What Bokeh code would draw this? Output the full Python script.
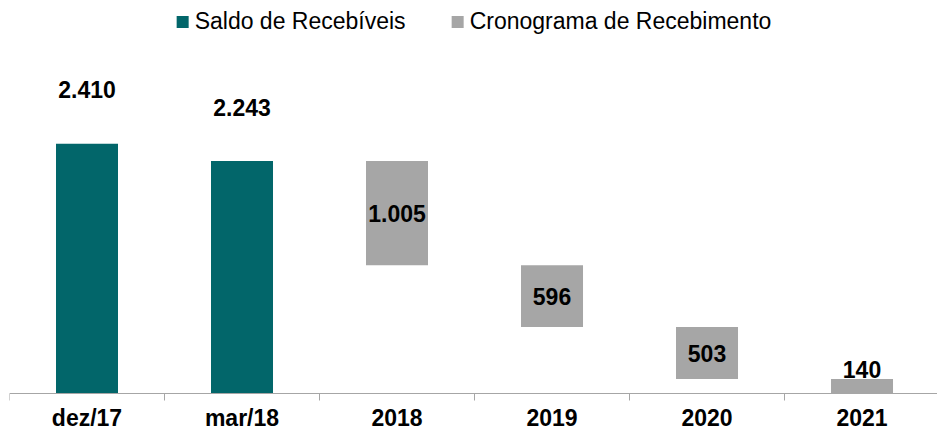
from bokeh.plotting import figure
from bokeh.models import Range1d, FixedTicker, Legend, LegendItem, ColumnDataSource
from bokeh.core.properties import value
from bokeh.embed import file_html
from bokeh.resources import INLINE

# ---- data ----
categories = ["dez/17", "mar/18", "2018", "2019", "2020", "2021"]
saldo_labels = ["dez/17", "mar/18"]
saldo_values = [2410, 2243]
crono_labels = ["2018", "2019", "2020", "2021"]
crono_values = [1005, 596, 503, 140]

TEAL = "#02666A"
GRAY = "#A6A6A6"
AXIS = "#A6A6A6"
FONT = "Liberation Sans"


def fmt(v):
    return f"{v:,}".replace(",", ".")


pos = {c: i + 0.5 for i, c in enumerate(categories)}

# waterfall geometry derived from the values
running = saldo_values[-1]
c_bottom, c_top = [], []
for v in crono_values:
    b = max(running - v, 0)
    c_bottom.append(b)
    c_top.append(b + v if running - v < 0 else running)
    running -= v

saldo_src = ColumnDataSource(dict(
    x=[pos[c] for c in saldo_labels],
    top=saldo_values,
    label=[fmt(v) for v in saldo_values],
))
crono_src = ColumnDataSource(dict(
    x=[pos[c] for c in crono_labels],
    bottom=c_bottom,
    top=c_top,
    label=[fmt(v) for v in crono_values],
))
cat_src = ColumnDataSource(dict(
    x=[pos[c] for c in categories],
    y=[0] * len(categories),
    label=categories,
))

X_END = 5.987
Y_START = -357
Y_END = 3793

p = figure(width=937, height=430,
           x_range=Range1d(0, X_END), y_range=Range1d(Y_START, Y_END),
           output_backend="svg", toolbar_location=None,
           y_axis_location=None,
           min_border_left=9, min_border_right=0,
           min_border_top=0, min_border_bottom=0)
p.outline_line_color = None
p.xgrid.visible = False
p.ygrid.visible = False

r1 = p.vbar(x="x", top="top", bottom=0, width=0.4, source=saldo_src,
            fill_color=TEAL, line_color=None)
r2 = p.vbar(x="x", top="top", bottom="bottom", width=0.4, source=crono_src,
            fill_color=GRAY, line_color=None)

# value labels for saldo (above bars)
p.text(x="x", y="top", text="label", source=saldo_src,
       text_font=value(FONT), text_font_style="bold", text_font_size="23px",
       text_align="center", text_baseline="middle", y_offset=-54,
       text_color="black")

# value labels for cronograma: inside tall bars, above short ones
inside = [i for i, v in enumerate(crono_values) if v >= 300]
outside = [i for i, v in enumerate(crono_values) if v < 300]
in_src = ColumnDataSource(dict(
    x=[pos[crono_labels[i]] for i in inside],
    y=[(c_bottom[i] + c_top[i]) / 2 for i in inside],
    label=[fmt(crono_values[i]) for i in inside],
))
out_src = ColumnDataSource(dict(
    x=[pos[crono_labels[i]] for i in outside],
    y=[c_top[i] for i in outside],
    label=[fmt(crono_values[i]) for i in outside],
))
p.text(x="x", y="y", text="label", source=in_src,
       text_font=value(FONT), text_font_style="bold", text_font_size="23px",
       text_align="center", text_baseline="middle", text_color="black")
p.text(x="x", y="y", text="label", source=out_src,
       text_font=value(FONT), text_font_style="bold", text_font_size="23px",
       text_align="center", text_baseline="middle", y_offset=-10,
       text_color="black")

# category labels under the baseline
p.text(x="x", y="y", text="label", source=cat_src,
       text_font=value(FONT), text_font_style="bold", text_font_size="23px",
       text_align="center", text_baseline="middle", y_offset=24,
       text_color="black")

# x axis pinned at zero: boundary ticks only
ax = p.xaxis[0]
ax.fixed_location = 0
ax.ticker = FixedTicker(ticks=[pos[c] for c in categories],
                        minor_ticks=list(range(len(categories) + 1)))
ax.major_label_overrides = {pos[c]: "" for c in categories}
ax.major_label_text_font_size = "0px"
ax.major_label_standoff = 0
ax.major_tick_out = 0
ax.major_tick_in = 0
ax.minor_tick_out = 7
ax.minor_tick_in = 0
ax.minor_tick_line_color = AXIS
ax.axis_line_color = AXIS
ax.axis_line_width = 1

legend = Legend(items=[
    LegendItem(label="Saldo de Recebíveis", renderers=[r1]),
    LegendItem(label="Cronograma de Recebimento", renderers=[r2]),
], orientation="horizontal", location="top_center")
legend.border_line_color = None
legend.background_fill_alpha = 0
legend.padding = 0
legend.margin = 8
legend.spacing = 44
legend.label_standoff = 5
legend.glyph_width = 15
legend.glyph_height = 15
legend.label_text_font = FONT
legend.label_text_font_size = "23px"
legend.label_text_color = "black"
p.add_layout(legend)

open("out.html", "w").write(file_html(p, INLINE))
